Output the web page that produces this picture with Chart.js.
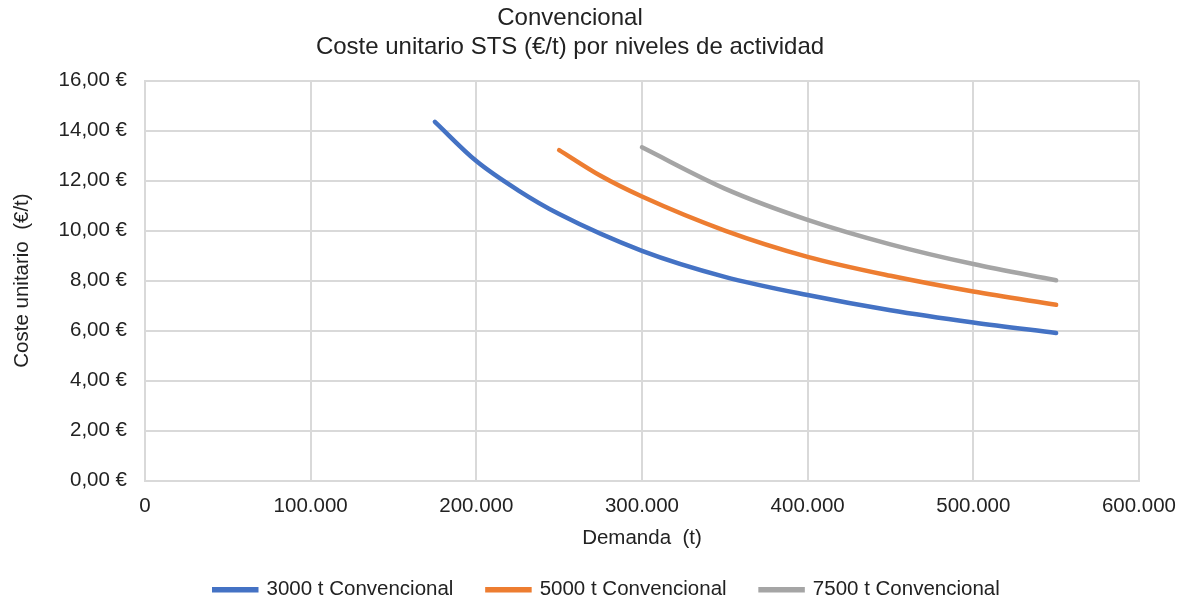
<!DOCTYPE html>
<html>
<head>
<meta charset="utf-8">
<script src="https://cdn.jsdelivr.net/npm/chart.js@4/dist/chart.umd.min.js"></script>
<style>
  html, body { margin: 0; padding: 0; background: #fff; }
  #wrap { width: 1190px; height: 603px; }
</style>
</head>
<body>
<div id="wrap"><canvas id="chart" width="1190" height="603"></canvas></div>
<script>
// values
const demanda3000 = [175000, 200000, 225000, 250000, 300000, 350000, 400000, 450000, 500000, 550000];
const coste3000   = [14.35, 12.78, 11.62, 10.66, 9.19, 8.15, 7.42, 6.81, 6.32, 5.90];
const demanda5000 = [250000, 275000, 300000, 350000, 400000, 450000, 500000, 550000];
const coste5000   = [13.22, 12.19, 11.36, 10.0, 8.95, 8.19, 7.56, 7.03];
const demanda7500 = [300000, 350000, 400000, 450000, 500000, 550000];
const coste7500   = [13.33, 11.68, 10.43, 9.45, 8.66, 8.01];

const seriesNames = ["3000 t Convencional", "5000 t Convencional", "7500 t Convencional"];
const colors = ["#4472C4", "#ED7D31", "#A5A5A5"];
const titleLines = ["Convencional", "Coste unitario STS (€/t) por niveles de actividad"];

const font = "'Liberation Sans', Arial, sans-serif";
const gridColor = "#d9d9d9";
const textColor = "#222222";

function pts(xs, ys) {
  return xs.map((x, i) => ({ x: x, y: ys[i] }));
}

function makeSet(i, xs, ys) {
  return {
    label: seriesNames[i],
    data: pts(xs, ys),
    borderColor: colors[i],
    backgroundColor: colors[i],
    borderWidth: 4.5,
    borderCapStyle: "round",
    pointRadius: 0,
    showLine: true,
    tension: 0.4,
    cubicInterpolationMode: "monotone"
  };
}

function fmtThousands(v) {
  return String(Math.round(v)).replace(/\B(?=(\d{3})+(?!\d))/g, ".");
}

// nudge the legend a bit to the right, the excel legend is not centred on the canvas
const legendShift = {
  id: "legendShift",
  afterLayout(chart) {
    const lg = chart.legend;
    lg.left += 37;
    lg.right += 37;
  }
};

new Chart(document.getElementById("chart"), {
  type: "scatter",
  data: {
    datasets: [
      makeSet(0, demanda3000, coste3000),
      makeSet(1, demanda5000, coste5000),
      makeSet(2, demanda7500, coste7500)
    ]
  },
  plugins: [legendShift],
  options: {
    responsive: false,
    animation: false,
    layout: { padding: { left: 0, right: 50, top: 4, bottom: -7 } },
    plugins: {
      tooltip: { enabled: false },
      title: {
        display: true,
        text: titleLines,
        color: textColor,
        font: { family: font, size: 24, weight: "normal", lineHeight: 1.2 },
        padding: { top: 0, bottom: 19 }
      },
      legend: {
        position: "bottom",
        labels: {
          color: textColor,
          font: { family: font, size: 20.5 },
          boxWidth: 42,
          boxHeight: 1,
          padding: 34
        }
      }
    },
    scales: {
      x: {
        type: "linear",
        min: 0,
        max: 600000,
        grid: { color: gridColor, lineWidth: 2, drawTicks: false, tickLength: 0 },
        border: { color: gridColor, width: 2 },
        ticks: {
          stepSize: 100000,
          color: textColor,
          padding: 14,
          font: { family: font, size: 20.5 },
          callback: v => fmtThousands(v)
        },
        title: {
          display: true,
          text: "Demanda  (t)",
          color: textColor,
          font: { family: font, size: 20.5 },
          padding: { top: 2, bottom: -5 }
        },
        afterFit: s => { s.height = 65; }
      },
      y: {
        min: 0,
        max: 16,
        grid: { color: gridColor, lineWidth: 2, drawTicks: false, tickLength: 0 },
        border: { color: gridColor, width: 2 },
        ticks: {
          stepSize: 2,
          color: textColor,
          padding: 18,
          font: { family: font, size: 20.5 },
          callback: v => v.toFixed(2).replace(".", ",") + " €"
        },
        title: {
          display: true,
          text: "Coste unitario  (€/t)",
          color: textColor,
          font: { family: font, size: 20.5 },
          padding: { top: 10, bottom: 0 }
        },
        afterFit: s => { s.width = 145; }
      }
    }
  }
});
</script>
</body>
</html>
